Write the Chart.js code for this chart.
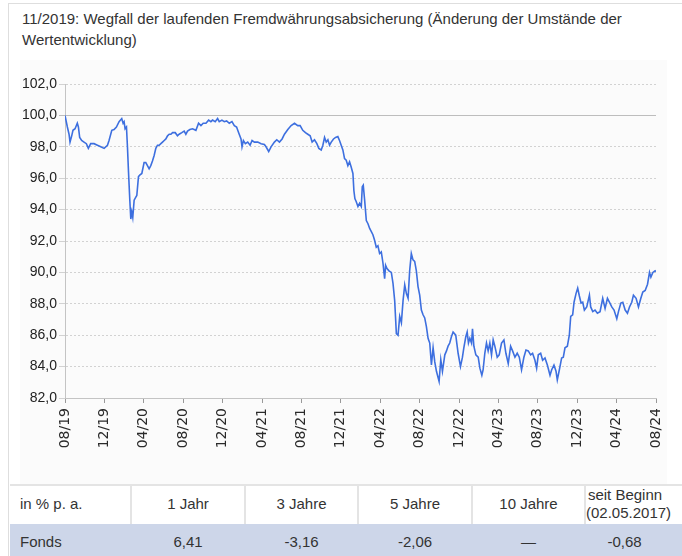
<!DOCTYPE html>
<html lang="de">
<head>
<meta charset="utf-8">
<title>Wertentwicklung</title>
<script src="https://cdn.jsdelivr.net/npm/chart.js@4.4.1/dist/chart.umd.min.js"></script>
<style>
  html, body { margin: 0; padding: 0; background: #fff; }
  body { width: 682px; height: 556px; position: relative; overflow: hidden;
         font-family: "Liberation Sans", Arial, sans-serif; color: #333; }
  .frame { position: absolute; left: 8px; top: 3px; width: 690px; height: 560px;
           border-left: 1px solid #dedede; border-top: 1px solid #dedede; }
  .title { position: absolute; left: 22px; top: 8px; font-size: 15px; line-height: 21px; color: #333;
           white-space: nowrap; }
  .panel { position: absolute; left: 20px; top: 60px; width: 647px; height: 424px; background: #fbfbfb; }
  #chartBox { position: absolute; left: 0; top: 60px; width: 682px; height: 420px; }
  table { position: absolute; left: 10px; top: 484px; width: 690px; border-collapse: collapse;
          table-layout: fixed; font-size: 15px; color: #333; }
  table tr.head td { height: 36px; background: #fff; border-top: 2px solid #e4e4e4;
                     border-left: 2px solid #e4e4e4; text-align: center; line-height: 18px;
                     padding: 0 0 2px 0; }
  table tr.head td:first-child { border-left: none; text-align: left; padding-left: 10px; }
  table tr.fund td { height: 34px; background: #cdd6e9; text-align: center; padding: 0 0 3px 0; }
  table tr.fund td:first-child { text-align: left; padding-left: 10px; }
  table tr td:last-child { padding-right: 36px; }
</style>
</head>
<body>
<div class="frame"></div>
<div class="title">11/2019: Wegfall der laufenden Fremdwährungsabsicherung (Änderung der Umstände der<br>Wertentwicklung)</div>
<div class="panel"></div>
<div id="chartBox"><canvas id="perfChart" width="682" height="420"></canvas></div>
<table>
  <colgroup>
    <col style="width:121px"><col style="width:114px"><col style="width:113px">
    <col style="width:114px"><col style="width:113px"><col style="width:115px">
  </colgroup>
  <tr class="head" id="headRow"></tr>
  <tr class="fund" id="fundRow"></tr>
</table>

<script>
// months since 08/2019 and indexed value (start = 100)
const months = [
  0, 0.24, 0.41, 0.51, 0.68, 0.81, 1.02, 1.25, 1.36, 1.49,
  1.69, 1.93, 2.17, 2.37, 2.61, 2.95, 3.29, 3.63, 3.97, 4.31,
  4.47, 4.75, 4.98, 5.22, 5.49, 5.76, 5.9, 6.0, 6.1, 6.24,
  6.34, 6.44, 6.58, 6.68, 6.78, 6.88, 7.02, 7.19, 7.29, 7.46,
  7.59, 7.8, 8.03, 8.2, 8.37, 8.54, 8.71, 8.88, 9.05, 9.22,
  9.39, 9.56, 9.73, 9.9, 10.07, 10.24, 10.41, 10.58, 10.75, 10.92,
  11.19, 11.42, 11.59, 11.86, 12.1, 12.27, 12.44, 12.68, 12.95, 13.29,
  13.56, 13.8, 14.03, 14.31, 14.58, 14.81, 14.98, 15.25, 15.49, 15.66,
  15.93, 16.17, 16.41, 16.68, 16.95, 17.19, 17.42, 17.63, 17.87, 17.97,
  18.11, 18.31, 18.55, 18.79, 18.99, 19.23, 19.57, 19.91, 20.24, 20.41,
  20.68, 20.92, 21.26, 21.5, 21.77, 22.04, 22.28, 22.62, 22.96, 23.3,
  23.63, 23.87, 24.14, 24.41, 24.65, 24.89, 25.09, 25.33, 25.57, 25.77,
  26.01, 26.18, 26.35, 26.52, 26.69, 26.86, 27.03, 27.26, 27.47, 27.7,
  27.87, 28.04, 28.21, 28.38, 28.55, 28.72, 28.89, 29.06, 29.23, 29.33,
  29.43, 29.57, 29.74, 29.91, 30.08, 30.18, 30.28, 30.42, 30.59, 30.76,
  30.93, 31.1, 31.26, 31.43, 31.6, 31.77, 31.94, 32.11, 32.28, 32.45,
  32.55, 32.69, 32.89, 33.13, 33.3, 33.47, 33.64, 33.81, 33.98, 34.15,
  34.32, 34.49, 34.66, 34.83, 34.99, 35.16, 35.33, 35.5, 35.67, 35.84,
  36.01, 36.18, 36.35, 36.52, 36.69, 36.86, 37.03, 37.2, 37.37, 37.54,
  37.71, 37.98, 38.15, 38.32, 38.56, 38.73, 38.89, 39.06, 39.23, 39.4,
  39.67, 39.91, 40.15, 40.35, 40.49, 40.69, 40.83, 40.96, 41.1, 41.27,
  41.37, 41.51, 41.71, 41.95, 42.12, 42.32, 42.45, 42.62, 42.79, 42.96,
  43.13, 43.3, 43.47, 43.64, 43.88, 44.08, 44.32, 44.56, 44.76, 45.0,
  45.24, 45.44, 45.68, 45.91, 46.12, 46.35, 46.59, 46.8, 47.03, 47.27,
  47.47, 47.71, 47.88, 48.05, 48.29, 48.49, 48.73, 48.97, 49.24, 49.41,
  49.64, 49.85, 49.98, 50.19, 50.42, 50.59, 50.76, 51.0, 51.2, 51.34,
  51.54, 51.68, 51.88, 52.05, 52.22, 52.39, 52.56, 52.73, 52.97, 53.24,
  53.37, 53.58, 53.81, 54.05, 54.32, 54.59, 54.83, 55.07, 55.27, 55.51,
  55.74, 56.02, 56.19, 56.43, 56.63, 56.87, 57.1, 57.31, 57.54, 57.71,
  57.98, 58.22, 58.46, 58.66, 58.9, 59.14, 59.34, 59.48, 59.68, 59.91, 60.0
];

const values = [
  100.0, 99.26, 98.8, 98.3, 98.7, 99.05, 99.15, 99.5, 99.26, 98.6,
  98.4, 98.3, 98.2, 97.9, 98.2, 98.2, 98.1, 98.0, 97.9, 98.1,
  98.4, 99.05, 99.1, 99.26, 99.6, 99.8, 99.5, 99.6, 99.15, 99.26,
  98.0, 96.5, 94.6, 93.4, 93.85, 93.5, 94.6, 94.8, 94.9, 96.1,
  96.2, 96.3, 97.0, 97.0, 96.8, 96.6, 96.8, 97.1, 97.45, 97.9,
  98.1, 98.1, 98.2, 98.3, 98.4, 98.5, 98.7, 98.8, 98.8, 98.9,
  98.9, 98.7, 98.8, 98.9, 99.0, 98.8, 99.0, 99.1, 99.15, 99.05,
  99.5, 99.35, 99.5, 99.5, 99.7, 99.6, 99.7, 99.6, 99.8, 99.6,
  99.7, 99.6, 99.65, 99.5, 99.6, 99.35, 99.26, 98.9, 98.5, 98.0,
  98.4, 98.2, 98.3, 98.1, 98.4, 98.3, 98.3, 98.2, 98.15, 98.0,
  97.7, 98.0, 98.3, 98.45, 98.3, 98.5, 98.8, 99.1, 99.35, 99.5,
  99.35, 99.35, 99.05, 98.9, 98.8, 98.7, 98.3, 98.45, 98.2, 97.9,
  97.8, 98.1, 98.6, 98.3, 98.45, 98.1, 98.3, 98.5, 98.6, 98.65,
  98.4, 98.1, 97.8, 97.25, 97.15, 96.8, 97.05, 96.7, 96.3, 95.2,
  94.7, 94.5, 94.2, 94.4, 94.2, 95.45, 95.55, 94.6, 93.3, 93.1,
  92.8, 92.6, 92.4, 92.05, 91.6, 91.7, 91.2, 91.3, 90.6, 89.6,
  90.45, 90.25, 90.1, 90.0, 89.3, 88.2, 86.1, 86.0, 87.2, 86.8,
  88.2, 89.2, 88.65, 88.35, 90.1, 91.2, 90.8, 90.7, 90.1, 89.1,
  88.55, 87.6, 87.3, 87.1, 86.55, 85.8, 85.5, 84.1, 85.2, 84.3,
  83.7, 83.05, 84.45, 83.7, 84.75, 85.0, 85.3, 85.5, 85.9, 86.2,
  86.0, 84.85, 84.0, 84.6, 85.2, 85.9, 86.2, 85.5, 85.8, 85.5,
  86.4, 85.3, 84.75, 84.6, 83.9, 83.45, 83.8, 84.85, 85.5, 85.0,
  85.5, 84.75, 85.7, 85.3, 84.6, 84.75, 85.5, 85.7, 84.85, 84.2,
  85.3, 85.0, 84.6, 84.85, 84.6, 83.8, 84.6, 85.05, 85.0, 84.75,
  84.85, 84.4, 83.9, 84.75, 84.85, 84.4, 84.55, 84.1, 83.45, 83.8,
  84.1, 83.7, 83.15, 83.8, 84.55, 84.6, 85.2, 85.3, 86.0, 87.2,
  87.3, 88.1, 88.65, 89.0, 88.5, 88.05, 88.1, 87.6, 87.8, 88.55,
  87.8, 87.5, 87.6, 87.4, 87.5, 88.35, 87.7, 88.35, 88.1, 87.8,
  87.6, 87.05, 87.5, 88.05, 88.1, 87.6, 87.4, 87.8, 88.1, 88.55,
  88.35, 87.8, 88.35, 88.75, 88.85, 89.25, 90.0, 89.7, 90.0, 90.1, 90.05
];

const tickLabels = ["08/19", "12/19", "04/20", "08/20", "12/20", "04/21", "08/21", "12/21",
                    "04/22", "08/22", "12/22", "04/23", "08/23", "12/23", "04/24", "08/24"];

const tableHead = ["in % p. a.", "1 Jahr", "3 Jahre", "5 Jahre", "10 Jahre", "seit Beginn<br>(02.05.2017)"];
const tableFund = ["Fonds", "6,41", "-3,16", "-2,06", "—", "-0,68"];

// table
document.getElementById("headRow").innerHTML = tableHead.map((t) => `<td>${t}</td>`).join("");
document.getElementById("fundRow").innerHTML = tableFund.map((t) => `<td>${t}</td>`).join("");

// target plot area inside the canvas
const area = { left: 65, top: 24, right: 656, bottom: 338 };

const chart = new Chart(document.getElementById("perfChart"), {
  type: "line",
  data: {
    datasets: [
      {
        data: months.map((m, i) => ({ x: m, y: values[i] })),
        borderColor: "#3d6fdf",
        borderWidth: 1.6,
        pointRadius: 0,
        tension: 0,
        fill: false,
      },
    ],
  },
  options: {
    responsive: false,
    animation: false,
    devicePixelRatio: 1,
    layout: { padding: { left: 0, top: area.top, right: 682 - area.right, bottom: 0 } },
    plugins: { legend: { display: false }, tooltip: { enabled: false } },
    scales: {
      x: {
        type: "linear",
        min: 0,
        max: 60,
        afterFit: (scale) => { scale.height = 420 - area.bottom; },
        ticks: {
          stepSize: 4,
          autoSkip: false,
          minRotation: 90,
          maxRotation: 90,
          padding: 5,
          color: "#2a2a2a",
          font: { family: "'DejaVu Sans', sans-serif", size: 14 },
          callback: (v) => tickLabels[Math.round(v / 4)],
        },
        grid: { drawOnChartArea: false, drawTicks: true, tickLength: 5, color: "#999" },
        border: { color: "#c4c4c4", width: 1 },
      },
      y: {
        min: 82,
        max: 102,
        afterFit: (scale) => { scale.width = area.left; },
        ticks: {
          stepSize: 2,
          padding: 2,
          color: "#222",
          font: { family: "'Liberation Sans', Arial, sans-serif", size: 14 },
          callback: (v) => v.toFixed(1).replace(".", ","),
        },
        grid: {
          tickLength: 6,
          lineWidth: 1,
          color: (ctx) => (ctx.tick && ctx.tick.value === 100 ? "#bdbdbd" : "#d2d2d2"),
        },
        border: {
          color: "#c4c4c4",
          width: 1,
          dash: (ctx) => (ctx.tick && ctx.tick.value === 100 ? [] : [2, 2]),
        },
      },
    },
  },
});

// nudge padding so the plot area lands where the reference has it
const ca = chart.chartArea;
const pad = chart.options.layout.padding;
pad.top += area.top - ca.top;
pad.right += ca.right - area.right;
chart.update();
</script>
</body>
</html>
